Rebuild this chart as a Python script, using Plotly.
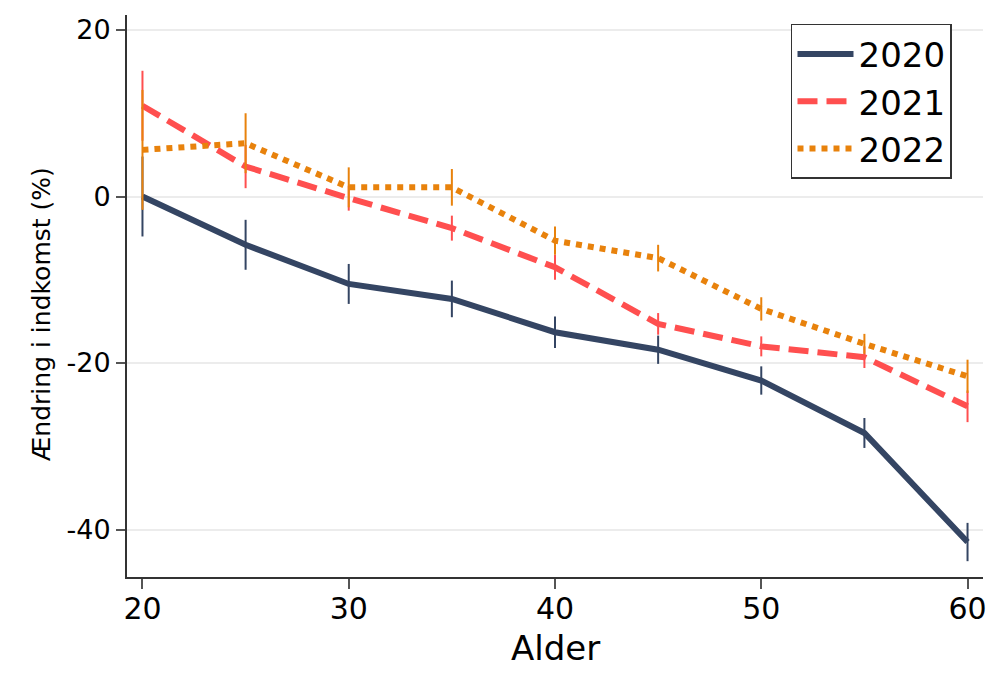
import plotly.graph_objects as go

ages = [20, 25, 30, 35, 40, 45, 50, 55, 60]
years = ["2020", "2021", "2022"]
v2020 = [0.0, -5.8, -10.5, -12.3, -16.3, -18.4, -22.1, -28.4, -41.5]
e2020 = [4.8, 3.0, 2.4, 2.2, 1.9, 1.7, 1.7, 1.8, 2.3]
v2021 = [10.9, 3.6, -0.2, -3.8, -8.5, -15.3, -18.0, -19.3, -25.2]
e2021 = [4.2, 2.6, 1.5, 1.5, 1.5, 1.3, 1.2, 1.3, 1.9]
v2022 = [5.6, 6.4, 1.1, 1.1, -5.3, -7.4, -13.5, -17.7, -21.6]
e2022 = [7.2, 3.6, 2.4, 2.2, 1.7, 1.6, 1.4, 1.2, 2.0]
y_ticks = [-40, -20, 0, 20]
y_ticktext = ["-40", "-20", "0", "20"]
x_ticks = [20, 30, 40, 50, 60]

colors = ["#344563", "#ff4f4f", "#e8820c"]
dashes = ["solid", "20px,9px", "6px,6px"]
values = [v2020, v2021, v2022]
errors = [e2020, e2021, e2022]

FONT = "DejaVu Sans, Verdana, sans-serif"

fig = go.Figure()
for name, vals, errs, col, dash in zip(years, values, errors, colors, dashes):
    fig.add_trace(go.Scatter(
        x=ages, y=vals, name=name, mode="lines",
        line=dict(color=col, width=6, dash=dash),
        error_y=dict(type="data", array=errs, visible=True, color=col,
                     thickness=2, width=0),
    ))

fig.update_layout(
    width=1001, height=682,
    margin=dict(l=119, r=26, t=7, b=113),
    paper_bgcolor="white", plot_bgcolor="white",
    font=dict(family=FONT, color="#000000"),
    showlegend=True,
    legend=dict(
        x=0.7757, y=0.984, xanchor="left", yanchor="top",
        bordercolor="#333333", borderwidth=1.5, bgcolor="white",
        font=dict(family=FONT, size=34),
        itemwidth=56, tracegroupgap=0,
    ),
    annotations=[
        dict(text="Alder", xref="paper", yref="paper", x=0.5, y=-0.1265,
             xanchor="center", yanchor="middle", showarrow=False,
             font=dict(size=34)),
        dict(text="Ændring i indkomst (%)", xref="paper", yref="paper",
             x=-0.0993, y=0.468, xanchor="center", yanchor="middle",
             textangle=-90, showarrow=False, font=dict(size=25)),
    ],
)
fig.update_xaxes(
    range=[19.25, 60.75], tickvals=x_ticks, ticks="outside", ticklen=10,
    tickwidth=1.5, tickcolor="#555555", automargin=False,
    showline=True, linecolor="#333333", linewidth=2, showgrid=False,
    zeroline=False, tickfont=dict(size=30), ticklabelstandoff=-6,
)
fig.update_yaxes(
    range=[-45.7, 21.8], tickvals=y_ticks, ticktext=y_ticktext,
    ticks="outside", ticklen=9, automargin=False,
    tickwidth=1.5, tickcolor="#555555",
    showline=True, linecolor="#333333", linewidth=2,
    showgrid=True, gridcolor="#ececec", gridwidth=1.5,
    zeroline=False, tickfont=dict(size=27),
)

fig.write_html("out.html")
